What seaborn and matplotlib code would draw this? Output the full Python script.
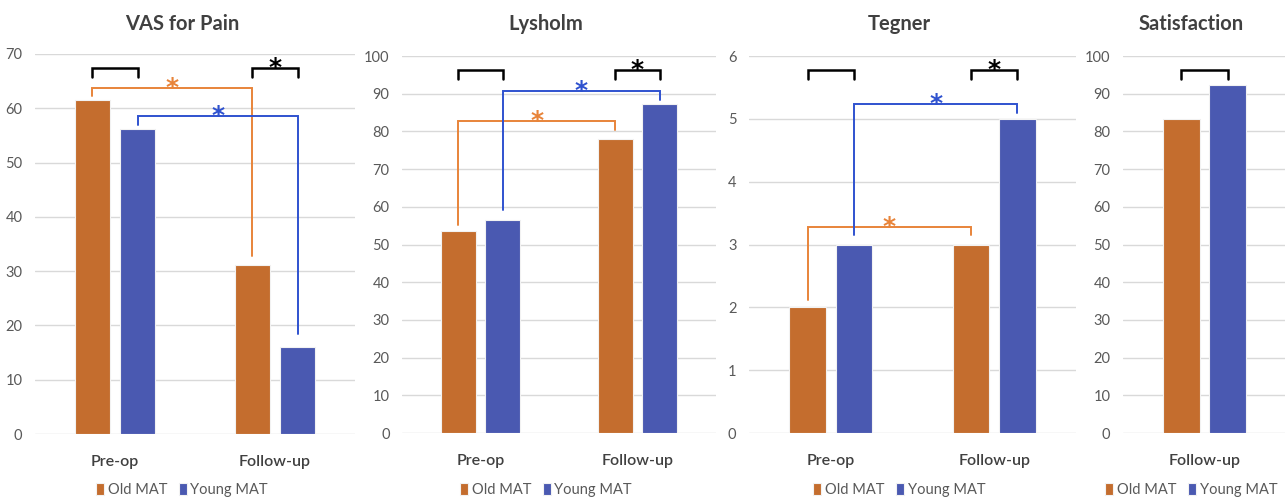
import numpy as np
import pandas as pd
import matplotlib.pyplot as plt
import seaborn as sns

# values
categories = ["Pre-op", "Follow-up"]
groups = ["Old MAT", "Young MAT"]

vas_old = [61.5, 31.2]
vas_young = [56.2, 16.1]

lysholm_old = [53.6, 77.9]
lysholm_young = [56.5, 87.2]

tegner_old = [2, 3]
tegner_young = [3, 5]

satisfaction_categories = ["Follow-up"]
satisfaction_old = [83.2]
satisfaction_young = [92.4]

old_color = "#C46D2E"
young_color = "#4A59B1"
orange_line = "#E8843A"
blue_line = "#2F52CF"

sns.set_style("white")
plt.rcParams['font.family'] = ['Lato', 'DejaVu Sans']

fig = plt.figure(figsize=(12.85, 4.98), dpi=100)
W, H = 1285, 498


def make_frame(cats, old, young):
    return pd.DataFrame({
        "time": cats * 2,
        "group": [groups[0]] * len(cats) + [groups[1]] * len(cats),
        "score": list(old) + list(young),
    })


# brackets: (hue a, cat a), (hue b, cat b), top level, left leg end, right leg end, colour, star
panels = [
    dict(title="VAS for Pain", cats=categories, old=vas_old, young=vas_young,
         box=(35, 355, 434, 54), ymax=70, step=10,
         brackets=[((0, 0), (1, 0), 67.4, 65.7, 65.7, "black", False),
                   ((0, 1), (1, 1), 67.4, 65.7, 65.7, "black", True),
                   ((0, 0), (0, 1), 63.7, 62.2, 32.7, orange_line, True),
                   ((1, 0), (1, 1), 58.6, 56.9, 18.4, blue_line, True)]),
    dict(title="Lysholm", cats=categories, old=lysholm_old, young=lysholm_young,
         box=(402, 716, 433, 56), ymax=100, step=10,
         brackets=[((0, 0), (1, 0), 96.3, 93.8, 93.8, "black", False),
                   ((0, 1), (1, 1), 96.3, 93.8, 93.8, "black", True),
                   ((0, 0), (0, 1), 82.8, 55.1, 80.4, orange_line, True),
                   ((1, 0), (1, 1), 90.8, 59.1, 88.3, blue_line, True)]),
    dict(title="Tegner", cats=categories, old=tegner_old, young=tegner_young,
         box=(749, 1076, 433, 56), ymax=6, step=1,
         brackets=[((0, 0), (1, 0), 5.78, 5.63, 5.63, "black", False),
                   ((0, 1), (1, 1), 5.78, 5.63, 5.63, "black", True),
                   ((0, 0), (0, 1), 3.28, 2.11, 3.15, orange_line, True),
                   ((1, 0), (1, 1), 5.23, 3.15, 5.09, blue_line, True)]),
    dict(title="Satisfaction", cats=satisfaction_categories, old=satisfaction_old,
         young=satisfaction_young, box=(1123, 1286, 433, 56), ymax=100, step=10,
         brackets=[((0, 0), (1, 0), 96.3, 93.8, 93.8, "black", False)]),
]

for p in panels:
    x0, x1, yb, yt = p["box"]
    ax = fig.add_axes([x0 / W, 1 - yb / H, (x1 - x0) / W, (yb - yt) / H])
    df = make_frame(p["cats"], p["old"], p["young"])
    sns.barplot(data=df, x="time", y="score", hue="group", hue_order=groups,
                palette=[old_color, young_color], saturation=1, width=0.565, gap=0.21,
                edgecolor="#F2F2F2", linewidth=0.8, ax=ax, zorder=2)
    handles, labels = ax.get_legend_handles_labels()
    ax.get_legend().remove()

    ax.set_ylim(0, p["ymax"])
    ax.set_xlim(-0.5, len(p["cats"]) - 0.5)
    ax.set_yticks(np.arange(0, p["ymax"] + p["step"] / 2, p["step"]))
    ax.grid(axis="y", color="#D9D9D9", linewidth=1, zorder=0)
    ax.set_axisbelow(True)
    sns.despine(ax=ax, left=True, bottom=True)
    ax.tick_params(axis="y", length=0, pad=9, labelsize=10.5, labelcolor="#595959")
    ax.tick_params(axis="x", length=0, pad=15, labelsize=11.5, labelcolor="#404040")
    for lab in ax.get_xticklabels():
        lab.set_fontweight("semibold")
    ax.set_xlabel("")
    ax.set_ylabel("")

    # bar centres, so the brackets sit on the bars
    centres = [[bar.get_x() + bar.get_width() / 2 for bar in c] for c in ax.containers]
    for a, b, top, la, lb, col, star in p["brackets"]:
        xa = centres[a[0]][a[1]]
        xb = centres[b[0]][b[1]]
        lw = 1.8 if col == "black" else 1.4
        ax.plot([xa, xa, xb, xb], [la, top, top, lb], color=col, lw=lw,
                solid_joinstyle="miter", zorder=4, clip_on=False)
        if star:
            ax.annotate("*", xy=((xa + xb) / 2, top), xytext=(0, -5),
                        textcoords="offset points", ha="center", va="baseline",
                        fontsize=18, fontweight="bold", color=col,
                        family="DejaVu Sans", zorder=5)

    # titles and legends are centred on the whole chart area
    cx = ((x0 + x1) / 2 - 13) / W
    fig.text(cx, 1 - 24 / H, p["title"], ha="center", va="center",
             fontsize=14.5, fontweight="bold", color="#404040")
    fig.legend(handles, labels, loc="center", bbox_to_anchor=(cx, 1 - 490 / H),
               ncol=2, frameon=False, fontsize=10.5, handlelength=0.55,
               handleheight=0.8, handletextpad=0.25, columnspacing=0.8,
               labelcolor="#595959", borderaxespad=0, borderpad=0)

fig.savefig("out.png", dpi=100)
